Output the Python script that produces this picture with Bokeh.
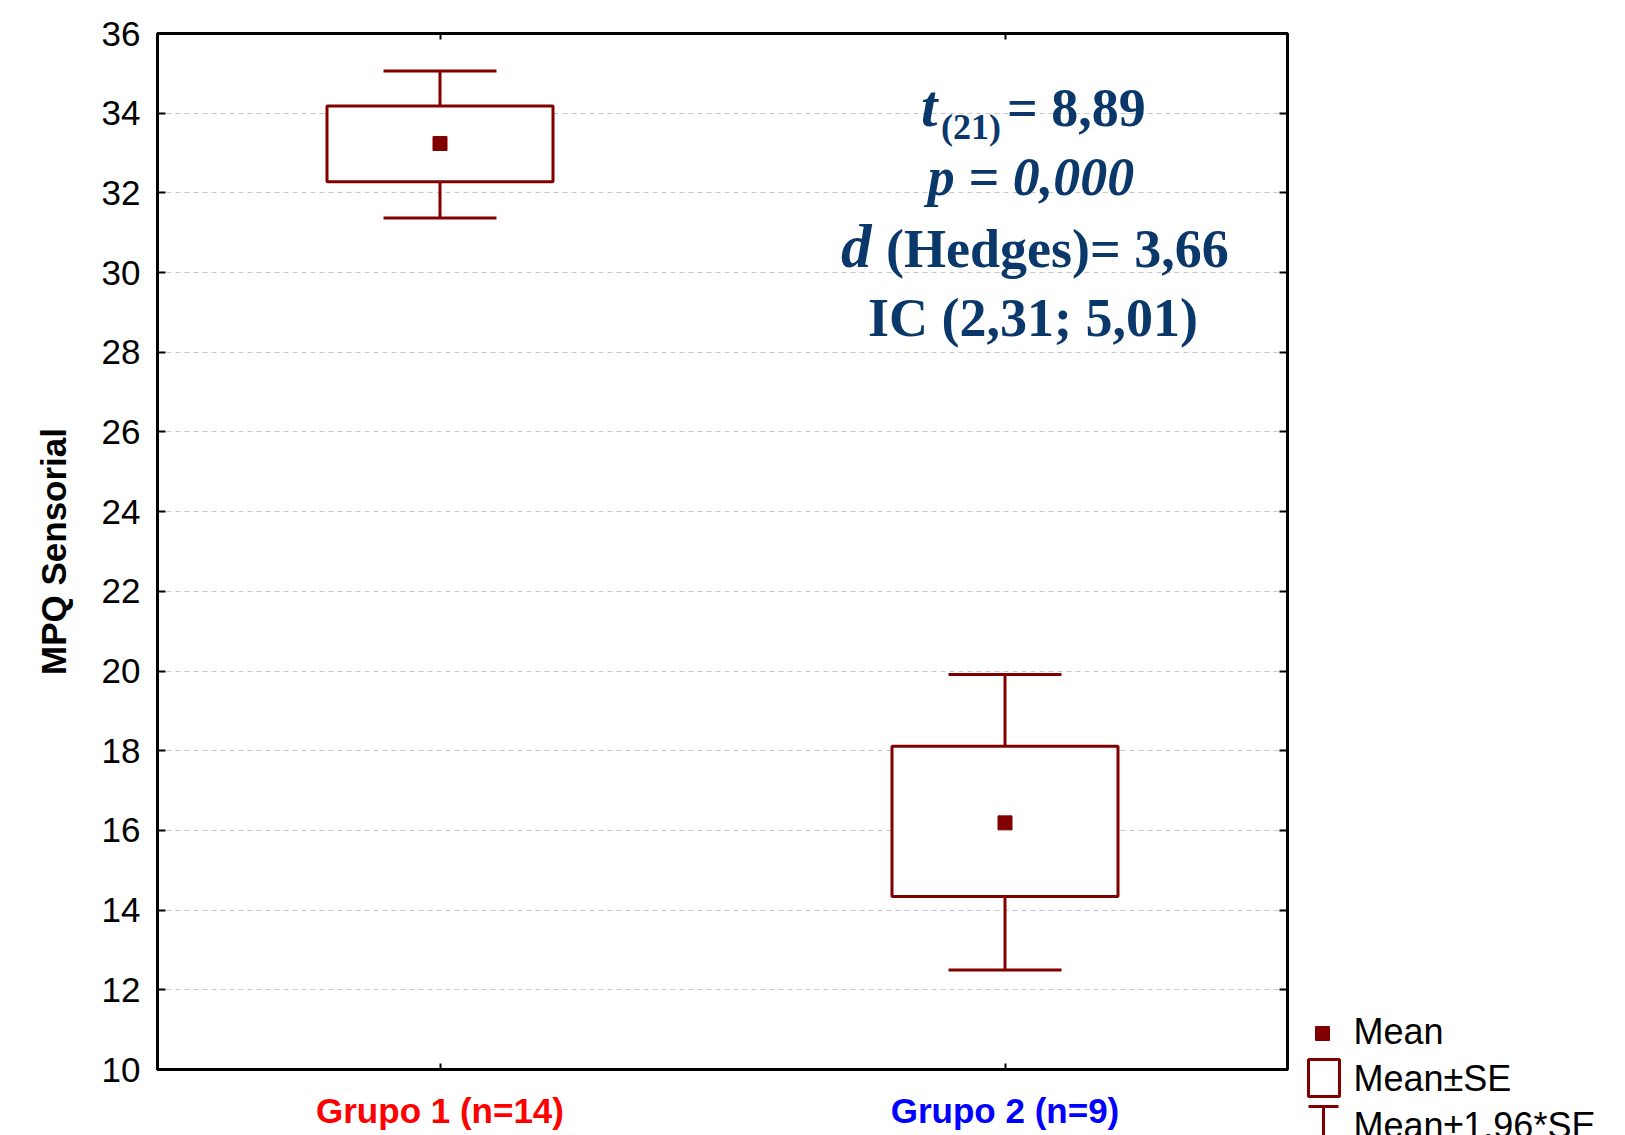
from bokeh.plotting import figure
from bokeh.models import (Range1d, FactorRange, FixedTicker, LinearAxis, CategoricalAxis,
                          Label, ColumnDataSource, CategoricalTicker, Spacer)
from bokeh.transform import dodge
from bokeh.layouts import row, column
from bokeh.core.properties import value
from bokeh.embed import file_html
from bokeh.resources import INLINE

# ---------------- data ----------------
groups = ["Grupo 1 (n=14)", "Grupo 2 (n=9)"]
group_colors = ["#FF0000", "#0000FF"]
means = [33.24, 16.19]
se_low = [32.28, 14.34]
se_high = [34.18, 18.11]
ci_low = [31.37, 12.50]
ci_high = [35.06, 19.91]
y_ticks = [10, 12, 14, 16, 18, 20, 22, 24, 26, 28, 30, 32, 34, 36]
y_label = "MPQ Sensorial"
legend_labels = ["Mean", "Mean\u00b1SE", "Mean\u00b11.96*SE"]
stats_lines = {
    "t": "t", "t_sub": "(21)", "t_val": "= 8,89",
    "p": "p = 0,000",
    "d": "d", "d_val": "(Hedges)= 3,66",
    "ic": "IC (2,31; 5,01)",
}

MAROON = "#800000"
NAVY = "#0b386a"
SANS = "Liberation Sans"
SERIF = "Liberation Serif"
BASE_FIX = 0.34   # baseline correction (fraction of font size)

src = ColumnDataSource(dict(x=groups, mean=means, lo=se_low, hi=se_high,
                            clo=ci_low, chi=ci_high))

P_W, P_H = 1297, 1089
p = figure(width=P_W, height=P_H,
           x_range=FactorRange(*groups, range_padding=0),
           y_range=Range1d(10, 36),
           output_backend="svg", toolbar_location=None,
           min_border_left=157, min_border_right=10,
           min_border_top=33, min_border_bottom=20)

p.outline_line_color = "black"
p.outline_line_width = 3
p.background_fill_color = "white"
p.border_fill_color = "white"

# grid
p.xgrid.visible = False
p.ygrid.ticker = FixedTicker(ticks=y_ticks)
p.ygrid.grid_line_color = "#c8c8c8"
p.ygrid.grid_line_dash = "5 4"
p.ygrid.grid_line_width = 1

# left axis
ya = p.yaxis[0]
ya.ticker = FixedTicker(ticks=y_ticks)
ya.axis_line_width = 3
ya.major_tick_in = 8
ya.major_tick_out = 0
ya.major_tick_line_width = 2
ya.minor_tick_line_color = None
ya.major_label_text_font = SANS
ya.major_label_text_font_size = "35px"
ya.major_label_text_color = "black"
ya.major_label_standoff = 17
ya.axis_label = y_label
ya.axis_label_text_font = SANS
ya.axis_label_text_font_style = "bold"
ya.axis_label_text_font_size = "35px"
ya.axis_label_text_color = "black"
ya.axis_label_standoff = 26

# bottom axis (labels drawn separately, coloured)
xa = p.xaxis[0]
xa.axis_line_width = 3
xa.major_tick_in = 6
xa.major_tick_out = 0
xa.major_tick_line_width = 2
xa.major_label_text_font_size = "0px"
xa.major_label_standoff = 0

# right axis
ra = LinearAxis(ticker=FixedTicker(ticks=y_ticks), axis_line_width=3,
                major_tick_in=8, major_tick_out=0, major_tick_line_width=2,
                minor_tick_line_color=None, major_label_text_font_size="0px",
                major_label_standoff=0)
p.add_layout(ra, "right")

# top axis
ta = CategoricalAxis(ticker=CategoricalTicker(), axis_line_width=3,
                     major_tick_in=6, major_tick_out=0, major_tick_line_width=2,
                     major_label_text_font_size="0px", major_label_standoff=0)
p.add_layout(ta, "above")

# whiskers (stems + caps)
p.segment(x0="x", y0="clo", x1="x", y1="chi", source=src,
          line_color=MAROON, line_width=3)
p.segment(x0=dodge("x", -0.1, range=p.x_range), y0="chi",
          x1=dodge("x", 0.1, range=p.x_range), y1="chi", source=src,
          line_color=MAROON, line_width=3)
p.segment(x0=dodge("x", -0.1, range=p.x_range), y0="clo",
          x1=dodge("x", 0.1, range=p.x_range), y1="clo", source=src,
          line_color=MAROON, line_width=3)
# boxes
p.vbar(x="x", width=0.4, bottom="lo", top="hi", source=src,
       fill_color="white", line_color=MAROON, line_width=3)
# means
p.scatter(x="x", y="mean", source=src, marker="square", size=14,
          fill_color=MAROON, line_color=MAROON)

# statistics annotation (anchored on second category: synthetic coord index+0.5)
ref = groups.index(groups[1]) + 0.5
def add_txt(txt, xo, yv, size, style, align="left"):
    p.add_layout(Label(x=ref, x_offset=xo, y=yv, y_offset=round(BASE_FIX * size),
                       text=txt, text_align=align,
                       text_baseline="alphabetic", text_color=NAVY,
                       text_font=SERIF, text_font_style=style,
                       text_font_size=f"{size}px"))

add_txt(stats_lines["t"], -84, 33.69, 59, "bold italic")
add_txt(stats_lines["t_sub"], -64, 33.36, 36, "bold")
add_txt(stats_lines["t_val"], 2, 33.69, 54, "bold")
add_txt(stats_lines["p"], 26, 31.95, 54, "bold italic", "center")
add_txt(stats_lines["d"], -164, 30.13, 61, "bold italic")
add_txt(stats_lines["d_val"], -119, 30.13, 54, "bold")
add_txt(stats_lines["ic"], 28, 28.42, 54, "bold", "center")

# ---------------- x category labels (own strip, shared x range) ----------------
XL_H = 1135 - P_H
XL_SIZE = 35
xlab = figure(width=P_W, height=XL_H, x_range=p.x_range, y_range=Range1d(XL_H, 0),
              output_backend="svg", toolbar_location=None,
              x_axis_type=None, y_axis_type=None,
              min_border_left=157, min_border_right=10,
              min_border_top=0, min_border_bottom=0)
xlab.outline_line_color = None
xlab.grid.visible = False
xlab.text(x=groups, y=[1122 - P_H - BASE_FIX * XL_SIZE] * len(groups), text=groups,
          text_color=group_colors,
          text_font=value(SANS), text_font_style="bold", text_font_size=f"{XL_SIZE}px",
          text_align="center", text_baseline="alphabetic")

# ---------------- legend panel ----------------
LG_W, LG_TOP = 1625 - P_W, 1000
LG_H = 1135 - LG_TOP
LG_SIZE = 36
leg = figure(width=LG_W, height=LG_H, x_range=Range1d(0, LG_W), y_range=Range1d(LG_H, 0),
             output_backend="svg", toolbar_location=None,
             x_axis_type=None, y_axis_type=None,
             min_border_left=0, min_border_right=0, min_border_top=0, min_border_bottom=0)
leg.outline_line_color = None
leg.grid.visible = False

leg.scatter(x=[25], y=[33], marker="square", size=14,
            fill_color=MAROON, line_color=MAROON)
leg.rect(x=[26.5], y=[77.5], width=[31], height=[37],
         fill_color="white", line_color=MAROON, line_width=3)
leg.segment(x0=[11, 26], y0=[106, 106], x1=[41, 26], y1=[106, 160],
            line_color=MAROON, line_width=3)
shift = BASE_FIX * LG_SIZE
leg.text(x=[56, 56, 56], y=[43 - shift, 90 - shift, 137 - shift], text=legend_labels,
         text_font=value(SANS), text_font_size=f"{LG_SIZE}px", text_color="black",
         text_baseline="alphabetic", text_align="left")

layout = row(column(p, xlab), column(Spacer(width=LG_W, height=LG_TOP), leg))

open("out.html", "w").write(file_html(layout, INLINE))
